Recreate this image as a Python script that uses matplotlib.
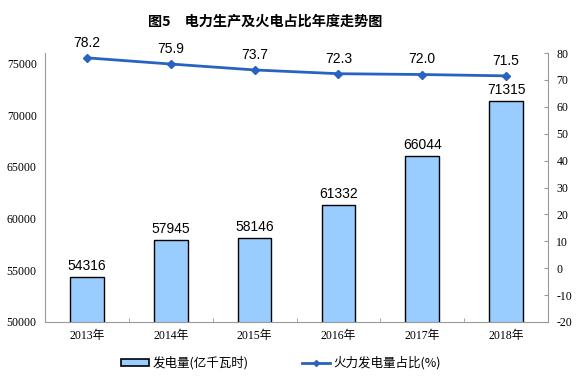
import matplotlib
matplotlib.use("Agg")
import matplotlib.pyplot as plt
from matplotlib.patches import Rectangle
from matplotlib.lines import Line2D

years = ["2013年", "2014年", "2015年", "2016年", "2017年", "2018年"]
generation = [54316, 57945, 58146, 61332, 66044, 71315]
thermal_share = [78.2, 75.9, 73.7, 72.3, 72.0, 71.5]
left_ticks = [50000, 55000, 60000, 65000, 70000, 75000]
right_ticks = [-20, -10, 0, 10, 20, 30, 40, 50, 60, 70, 80]

serif = ["Liberation Serif", "Noto Sans CJK SC"]
sans = ["Liberation Sans", "Noto Sans CJK SC"]
cjk = ["Noto Sans CJK SC", "DejaVu Sans"]

fig = plt.figure(figsize=(5.8, 3.8), dpi=100)
ax = fig.add_axes([45/580, 1-322/380, (548-45)/580, (322-53)/380])
ax2 = ax.twinx()

x = list(range(len(years)))
ax.bar(x, generation, width=0.4, color="#99CCFF", edgecolor="black", linewidth=1.0, zorder=2)
ax.set_xlim(-0.5, len(years)-0.5)
ax.set_ylim(50000, 76000)
ax.set_yticks(left_ticks)
ax.set_yticklabels([str(v) for v in left_ticks], family=serif, fontsize=8.5)
ax.set_xticks(x)
ax.set_xticklabels(years, family=serif, fontsize=8.5)
ax.set_xticks([i+0.5 for i in x[:-1]], minor=True)
ax.tick_params(axis="x", which="major", length=0, pad=6)
ax.tick_params(axis="x", which="minor", length=3, direction="in", color="#999999")
ax.tick_params(axis="y", length=0, pad=6)
for s in ["top", "right"]:
    ax.spines[s].set_visible(False)
ax.spines["left"].set_color("#999999")
ax.spines["bottom"].set_color("#999999")
for i, v in enumerate(generation):
    ax.text(i, v + 400, str(v), ha="center", va="bottom", fontsize=10, family=sans)

ax2.plot(x, thermal_share, color="#2863C0", linewidth=2, marker="D", markersize=4, zorder=3)
ax2.set_ylim(-20, 80)
ax2.set_yticks(right_ticks)
ax2.set_yticklabels([str(v) for v in right_ticks], family=serif, fontsize=8.5)
ax2.tick_params(axis="y", direction="in", length=3, color="#999999", pad=6)
for s in ["top", "left", "bottom"]:
    ax2.spines[s].set_visible(False)
ax2.spines["right"].set_color("#999999")
for i, v in enumerate(thermal_share):
    ax2.text(i, v + 3, f"{v:.1f}", ha="center", va="bottom", fontsize=10, family=sans)

fig.text(265/580, 1-22/380, "图5　电力生产及火电占比年度走势图", ha="center", va="center",
         fontsize=10.2, family=cjk, weight="bold")

handles = [Rectangle((0, 0), 1, 1, facecolor="#99CCFF", edgecolor="black", linewidth=1.2),
           Line2D([], [], color="#2863C0", linewidth=2, marker="D", markersize=3)]
fig.legend(handles, ["发电量(亿千瓦时)", "火力发电量占比(%)"], loc="center",
           bbox_to_anchor=(281/580, 1-363/380), ncol=2, frameon=False,
           prop={"family": cjk, "size": 9}, columnspacing=4.3, handlelength=2.2,
           handleheight=0.5, handletextpad=0.3)

fig.savefig("out.png", dpi=100)
